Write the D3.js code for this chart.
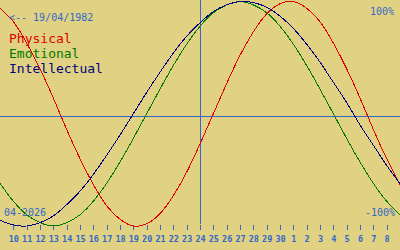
<!DOCTYPE html>
<html>
<head>
<meta charset="utf-8">
<script src="https://cdn.jsdelivr.net/npm/d3@7"></script>
<style>
	html, body { margin: 0; padding: 0; background: #e0d282; }
	svg { display: block; }
	text { font-family: "DejaVu Sans Mono", monospace; }
</style>
</head>
<body>
<script>
// Day offsets 0..30 (9 Apr 2026 .. 9 May 2026)
var physical = [0.94, 0.82, 0.63, 0.40, 0.14, -0.14, -0.40, -0.63, -0.82, -0.94, -1.00,
	-0.98, -0.89, -0.73, -0.52, -0.27, 0.00, 0.27, 0.52, 0.73, 0.89,
	0.98, 1.00, 0.94, 0.82, 0.63, 0.40, 0.14, -0.14, -0.40, -0.63];
var emotional = [-0.62, -0.78, -0.90, -0.97, -1.00, -0.97, -0.90, -0.78, -0.62, -0.43, -0.22,
	0.00, 0.22, 0.43, 0.62, 0.78, 0.90, 0.97, 1.00, 0.97, 0.90,
	0.78, 0.62, 0.43, 0.22, 0.00, -0.22, -0.43, -0.62, -0.78, -0.90];
var intellectual = [-0.95, -0.99, -1.00, -0.97, -0.91, -0.81, -0.69, -0.54, -0.37, -0.19, 0.00,
	0.19, 0.37, 0.54, 0.69, 0.81, 0.91, 0.97, 1.00, 0.99, 0.95,
	0.87, 0.76, 0.62, 0.46, 0.28, 0.10, -0.10, -0.28, -0.46, -0.62];

// tick labels for offsets 1..29
var dayLabels = ["10", "11", "12", "13", "14", "15", "16", "17", "18", "19", "20",
	"21", "22", "23", "24", "25", "26", "27", "28", "29", "30",
	"1", "2", "3", "4", "5", "6", "7", "8"];
var todayOffset = 15;
var birthLabel = "<-- 19/04/1982";
var monthLabel = "04-2026";
var seriesNames = ["Physical", "Emotional", "Intellectual"];

var width = 400,
	height = 250;
var blue = "#3468c8";
var colors = ["#e00000", "#007800", "#000080"];

var svg = d3.select("body").append("svg")
	.attr("width", width)
	.attr("height", height);

var x = d3.scaleLinear().domain([0, 30]).range([0, width]);
var y = d3.scaleLinear().domain([-1, 1]).range([226, 1.5]);

// zero line and today line
svg.append("line")
	.attr("x1", 0).attr("x2", width)
	.attr("y1", 116.5).attr("y2", 116.5)
	.attr("stroke", blue).attr("stroke-width", 1)
	.attr("shape-rendering", "crispEdges");

svg.append("line")
	.attr("x1", x(todayOffset) + 0.5).attr("x2", x(todayOffset) + 0.5)
	.attr("y1", 0).attr("y2", 224)
	.attr("stroke", blue).attr("stroke-width", 1)
	.attr("shape-rendering", "crispEdges");

// day ticks
var xAxis = d3.axisBottom(x)
	.tickValues(d3.range(1, 30))
	.tickFormat(function(d) { return dayLabels[d - 1]; })
	.tickSize(5)
	.tickPadding(6);

var axisG = svg.append("g")
	.attr("transform", "translate(0,225)")
	.call(xAxis);
axisG.select(".domain").remove();
axisG.selectAll("line")
	.attr("stroke", blue)
	.attr("stroke-width", 1)
	.attr("shape-rendering", "crispEdges");
axisG.selectAll("text")
	.attr("fill", blue)
	.style("font-family", "'DejaVu Sans Mono', monospace")
	.style("font-size", "8.5px")
	.style("font-weight", "bold");

// labels
svg.append("text")
	.attr("x", 9).attr("y", 20.5)
	.attr("fill", blue)
	.style("font-size", "10px")
	.text(birthLabel);

svg.append("text")
	.attr("x", 4).attr("y", 216)
	.attr("fill", blue)
	.style("font-size", "10px")
	.text(monthLabel);

svg.append("text")
	.attr("x", 394).attr("y", 15)
	.attr("text-anchor", "end")
	.attr("fill", blue)
	.style("font-size", "10px")
	.text("100%");

svg.append("text")
	.attr("x", 395).attr("y", 216)
	.attr("text-anchor", "end")
	.attr("fill", blue)
	.style("font-size", "10px")
	.text("-100%");

svg.selectAll("text.legend")
	.data(seriesNames)
	.enter()
	.append("text")
	.attr("class", "legend")
	.attr("x", 9)
	.attr("y", function(d, i) { return 43 + i * 15; })
	.attr("fill", function(d, i) { return colors[i]; })
	.style("font-size", "13px")
	.text(function(d) { return d; });

// curves
var line = d3.line()
	.x(function(d, i) { return x(i); })
	.y(function(d) { return y(d); })
	.curve(d3.curveNatural);

svg.selectAll("path.curve")
	.data([physical, emotional, intellectual])
	.enter()
	.append("path")
	.attr("class", "curve")
	.attr("d", line)
	.attr("fill", "none")
	.attr("stroke", function(d, i) { return colors[i]; })
	.attr("stroke-width", 1)
	.attr("shape-rendering", "crispEdges");
</script>
</body>
</html>
